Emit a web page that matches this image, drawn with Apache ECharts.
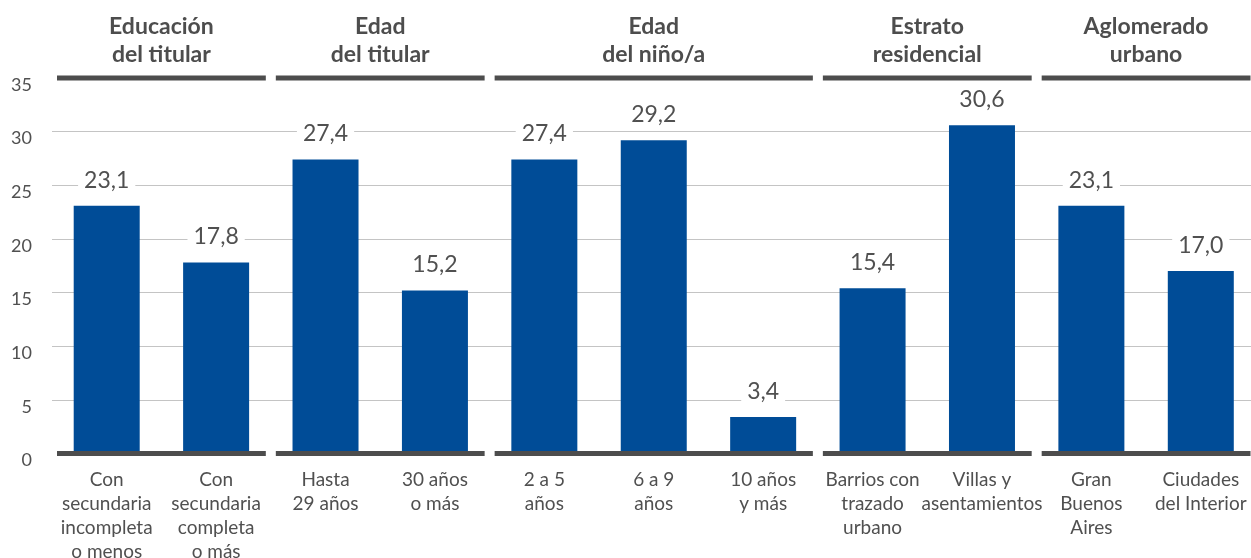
<!DOCTYPE html>
<html>
<head>
<meta charset="utf-8">
<script src="https://cdn.jsdelivr.net/npm/echarts@6/dist/echarts.min.js"></script>
<style>
  html, body { margin: 0; padding: 0; background: #fff; }
  #chart { width: 1251px; height: 558px; }
</style>
</head>
<body>
<div id="chart"></div>
<script>
// datos
var categories = [
  'Con\nsecundaria\nincompleta\no menos',
  'Con\nsecundaria\ncompleta\no más',
  'Hasta\n29 años',
  '30 años\no más',
  '2 a 5\naños',
  '6 a 9\naños',
  '10 años\ny más',
  'Barrios con\ntrazado\nurbano',
  'Villas y\nasentamientos',
  'Gran\nBuenos\nAires',
  'Ciudades\ndel Interior'
];
var values = [23.1, 17.8, 27.4, 15.2, 27.4, 29.2, 3.4, 15.4, 30.6, 23.1, 17.0];

var groupTitles = ['Educación\ndel titular', 'Edad\ndel titular', 'Edad\ndel niño/a', 'Estrato\nresidencial', 'Aglomerado\nurbano'];
var groupStart = [0, 2, 4, 7, 9];
var groupEnd = [1, 3, 6, 8, 10];

var yMin = 0;
var yMax = 35;
var yStep = 5;

var textColor = '#505050';
var darkLine = '#4d4d4d';
var barColor = '#004c97';
var font = 'Lato';

var chart = echarts.init(document.getElementById('chart'));

function fmt(v) {
  return v.toFixed(1).replace('.', ',');
}

var groupData = groupStart.map(function (s, i) {
  return [s, groupEnd[i]];
});

function renderGroup(params, api) {
  var s = api.value(0);
  var e = api.value(1);
  var bw = api.size([1, 0])[0];
  var inset = 5;
  var x0 = api.coord([s, yMax])[0] - bw / 2 + inset;
  var x1 = api.coord([e, yMax])[0] + bw / 2 - inset;
  var yTop = api.coord([s, yMax])[1];
  var yBot = api.coord([s, yMin])[1];
  return {
    type: 'group',
    children: [
      {
        type: 'rect',
        shape: { x: x0, y: yTop - 2.5, width: x1 - x0, height: 5 },
        style: { fill: darkLine }
      },
      {
        type: 'rect',
        shape: { x: x0, y: yBot - 2.5, width: x1 - x0, height: 5 },
        style: { fill: darkLine }
      },
      {
        type: 'text',
        x: (x0 + x1) / 2,
        y: yTop - 9,
        style: {
          text: groupTitles[params.dataIndex],
          fill: darkLine,
          font: 'bold 23px ' + font,
          lineHeight: 28,
          align: 'center',
          verticalAlign: 'bottom'
        }
      }
    ]
  };
}

chart.setOption({
  animation: false,
  textStyle: { fontFamily: font },
  grid: {
    left: 52,
    top: 78,
    width: 1203.5,
    height: 375.5,
    containLabel: false,
    outerBoundsMode: 'none'
  },
  xAxis: {
    type: 'category',
    data: categories,
    axisLine: { show: false },
    axisTick: { show: false },
    axisLabel: {
      interval: 0,
      color: textColor,
      fontSize: 19,
      lineHeight: 24,
      margin: 14,
      overflow: 'none'
    }
  },
  yAxis: {
    type: 'value',
    min: yMin,
    max: yMax,
    interval: yStep,
    axisLine: { show: false },
    axisTick: { show: false },
    axisLabel: {
      color: textColor,
      fontSize: 18,
      margin: 20,
      formatter: function (v) { return '{v|' + v + '}'; },
      rich: {
        v: { color: textColor, fontSize: 18, padding: [14, 0, 0, 0] }
      }
    },
    splitLine: {
      lineStyle: {
        color: ['transparent', '#c4c4c4', '#c4c4c4', '#c4c4c4', '#c4c4c4', '#c4c4c4', '#c4c4c4', 'transparent'],
        width: 1
      }
    }
  },
  series: [
    {
      type: 'bar',
      data: values,
      barWidth: 66,
      itemStyle: { color: barColor },
      label: {
        show: true,
        position: 'top',
        distance: 12,
        color: textColor,
        fontSize: 23,
        backgroundColor: '#fff',
        padding: [2, 6],
        formatter: function (p) { return fmt(p.value); }
      },
      z: 3
    },
    {
      type: 'custom',
      coordinateSystem: 'cartesian2d',
      data: groupData,
      encode: { x: [0, 1] },
      renderItem: renderGroup,
      clip: false,
      silent: true,
      z: 5
    }
  ]
});
</script>
</body>
</html>
